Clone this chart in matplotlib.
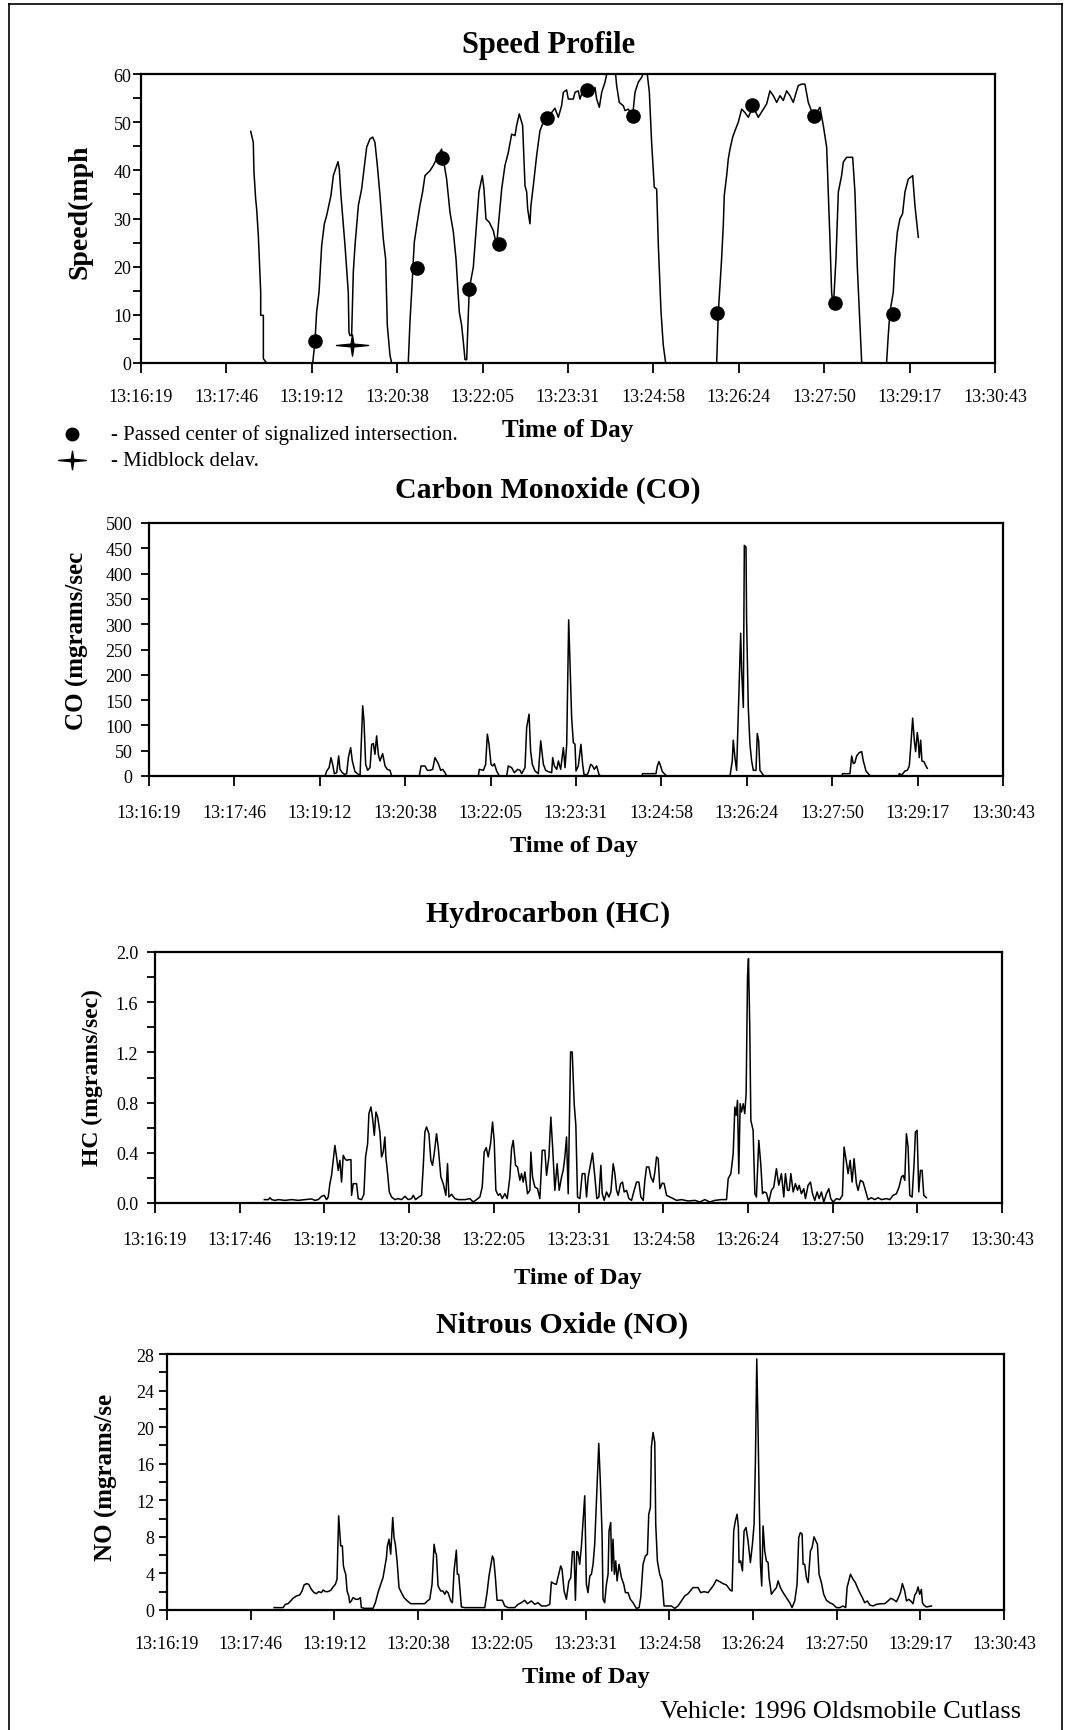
import matplotlib
matplotlib.use('Agg')
import matplotlib.pyplot as plt
from matplotlib.path import Path
from matplotlib.lines import Line2D
import numpy as np

# ---------------- data (seconds after 13:16:19) ----------------
TICK_LABELS = ['13:16:19', '13:17:46', '13:19:12', '13:20:38', '13:22:05', '13:23:31',
               '13:24:58', '13:26:24', '13:27:50', '13:29:17', '13:30:43']
SPAN_S = 864.0

speed_t = [111, 113.6, 114.3, 116, 117, 118.7, 121.1, 121.1, 123.8, 123.8, 127.1,
           173.7, 176, 177.7, 180.1, 182.8, 185.5, 187.8, 192.2, 194.6, 196.9, 199.3, 200.6, 202.3,
           206.4, 209.7, 210.4, 211.4, 213.1, 214.8, 216.5, 219.9, 223.2, 228.3, 231.6, 234.4, 236.7,
           239.1, 241.8, 245.1, 247.5, 249.2, 251.9, 253.6,
           270.4, 272.1, 273.8, 276.5, 279.5, 282.2, 284.9, 287.3, 292.3, 295.7, 300.8, 304.1, 305.8,
           309.2, 312.6, 316, 318.7, 322, 324.4, 326.1, 327.8, 329.5, 332.1, 336.2, 339.6, 341.9,
           345.3, 347, 349, 352.4, 356.4, 359.8, 361.5, 364.9, 368.2, 371.6, 375, 378.4, 380, 382.7,
           386.1, 388.5, 390.2, 391.2, 393.5, 394.5, 396.9, 400.3, 403.6, 407, 411, 415.4, 418.8,
           422.2, 425.5, 427.3, 430.6, 432.3, 437.4, 439.1, 442.4, 444.1, 447.5, 452.6, 454.2, 457.6,
           459.3, 461, 463.7, 466.1, 469.4, 472.8, 479.5, 481.2, 483.9, 488, 489.7, 493, 497.4, 499.8,
           503.1, 506.5, 509.9, 512.2, 514.3, 516.6, 519.3, 521.7, 523.4, 526.1, 528.4, 530.8,
           582.4, 584.1, 585.8, 587.4, 589.1, 590.1, 592.5, 594.2, 595.9, 598.6, 600.9, 604.3, 607.7,
           611, 614.4, 617.8, 621.2, 624.5, 629.6, 633, 636.3, 639.7, 643.1, 646.5, 649.8, 653.2,
           656.6, 659.9, 663.3, 665, 668.4, 671.7, 675.1, 680.2, 683.5, 686.9, 690.3, 693.7, 695.3,
           697, 698.7, 700.4, 703.1, 705.5, 708.8, 710.5, 713.9, 720, 722.3, 724.7, 727.4, 729.1,
           730.8, 754.3, 756, 757.7, 761.1, 762.8, 765.2, 767.8, 770.5, 772.9, 776.3, 780.7, 783,
           786.4]
speed_v = [48.1, 45.8, 39.6, 34.1, 32, 26.5, 14.7, 9.9, 9.9, 0.9, 0,
           0, 4.4, 10.6, 14.7, 24.4, 28.9, 30.6, 34.8, 38.9, 40.3, 41.8, 40.3, 34.8,
           24.4, 14.7, 6.4, 5.7, 5.7, 18.9, 24.4, 32.7, 36.1, 44.8, 46.5, 46.9, 45.8,
           41, 34.8, 25.8, 21.6, 7.8, 1.6, 0,
           0, 8.5, 14.7, 25.1, 29.2, 32.7, 35.5, 38.9, 39.9, 41, 43.1, 44.4, 42.4,
           38.2, 31.3, 27.2, 21.6, 10.6, 7.8, 4.4, 0.7, 0.7, 15.4, 19.9, 29.2, 35.5,
           38.9, 36.1, 29.9, 29.2, 27.5, 24.4, 28.5, 36.1, 41, 43.7, 47.5, 47.2, 49.3, 51.7,
           49.3, 36.8, 35.5, 32, 28.9, 32.7, 36.8, 43.1, 48.2, 50, 50.8, 52, 52.9,
           51, 53.4, 56.2, 56.7, 54.8, 54.8, 56.2, 56.5, 54.8, 56.9, 55.5, 56.2, 56.2,
           57.2, 54.8, 53.1, 56.2, 58.3, 61.5, 61.5, 57.6, 54.1, 53.4, 52.4, 52.7, 51.3, 56.2,
           58.3, 59.3, 61, 60, 56.2, 45.8, 36.5, 36.1, 24.4, 10.6, 3.7, 0,
           0, 10.6, 16.1, 21.6, 28.5, 34.8, 38.9, 42.4, 44.4, 46.9, 48.2, 50, 52.7,
           52, 51, 52.7, 52.4, 51, 52.7, 53.8, 56.5, 55.5, 54.1, 55.5, 54.5, 56.5,
           55.5, 54.1, 56.5, 57.6, 57.9, 57.9, 54.1, 51.3, 52, 53.1, 49.3, 44.8, 35.5,
           25.8, 14.7, 11.3, 21.6, 35.5, 38.9, 41.7, 42.7, 42.7, 35.5, 19.9, 7.8, 0.2,
           0, 0, 5.7, 10.6, 14.7, 21.6, 27.2, 29.9, 31, 35.5, 38.2, 38.9, 32.7,
           26.1]

signal_t = [176.0, 279.5, 304.1, 332.1, 362.5, 411.0, 451.5, 497.4, 582.4, 618.5, 680.9, 702.1, 760.4]
signal_v = [4.5, 19.8, 42.6, 15.3, 24.7, 50.9, 56.7, 51.3, 10.4, 53.6, 51.3, 12.4, 10.2]
midblock_t = [213.1]
midblock_v = [3.8]

co_t = [178.1, 179.8, 182.2, 184.1, 185.8, 187.5, 189.9, 191.9, 193.2, 195.6, 197.6, 200, 201.7,
        204, 205.7, 208.4, 211.8, 213.5, 216.2, 217.5, 219.2, 221.2, 223.6, 225.3, 227, 228.6,
        230.3, 232, 233.7, 236.4, 238.8, 241.1, 243.8, 245.5,
        273.5, 275.2, 279.2, 281.6, 284.3, 287, 289.3, 292.7, 295.1, 297.1, 299.5, 301.2,
        333.2, 334.2, 338.3, 340.6, 342.3, 344, 346, 347.7, 349.4, 351.7, 354.4,
        361.8, 363.5, 366.9, 369.6, 373, 375.4, 377, 380.4, 382.1, 384.5, 386.1, 387.8, 390.5,
        393.9, 396.3, 399, 401.3, 404, 407.4, 408.4, 410.1, 412.5, 414.2, 416.5, 419.2, 420.9,
        422.6, 424.6, 427.6, 429.3, 431, 432, 434.3, 437, 438.7, 440.1, 442.8, 444.4, 446.8,
        448.8, 450.5, 452.9, 455.2, 456.9,
        498.4, 499.4, 512.9, 514.3, 515.9, 517.6, 519.3, 522, 523.7,
        587.8, 590.1, 591.1, 592.8, 594.5, 596.2, 598.6, 599.6, 601.3, 602.3, 604, 604.6, 606.3,
        608, 609.7, 611.4, 614.1, 615.4, 616.8, 618.1, 619.8, 622.2,
        700.8, 701.8, 709.2, 710.9, 712.6, 714.2, 715.9, 718.6, 721, 722.7, 725.4, 727.7, 730.1,
        758.1, 759.1, 761.5, 764.8, 767.2, 769.2, 770.6, 772.6, 774.3, 775.6, 777.3, 778.3, 779.3,
        780.7, 782, 784, 786.1, 787.4]
co_v = [0, 9.9, 16.5, 36.3, 23.1, 4.6, 6.6, 39.6, 13.2, 6.6, 3.3, 4.6, 36.3,
        56.1, 29.7, 8.6, 3.3, 0, 138.7, 109, 23.1, 11.2, 16.5, 62.7, 64.1, 42.9,
        79.3, 42.9, 29.7, 44.2, 19.8, 13.2, 11.2, 0,
        0, 19.8, 19.8, 11.2, 11.2, 13.2, 36.3, 24.4, 11.2, 13.2, 6.6, 0,
        0, 13.2, 11.2, 23.1, 82.6, 62.7, 23.1, 19.8, 24.4, 9.9, 0,
        0, 19.8, 16.5, 6.6, 13.2, 11.2, 4.6, 16.5, 95.8, 122.2, 49.5, 23.1, 9.9,
        4.6, 69.4, 23.1, 11.2, 8.6, 6.6, 36.3, 19.8, 13.2, 29.7, 13.2, 56.1, 16.5,
        62.7, 308.5, 115.6, 66, 62.7, 9.9, 19.8, 62.7, 23.1, 3.3, 2, 6.6, 23.1,
        19.8, 13.2, 19.8, 3.3, 0,
        0, 4.6, 4.6, 19.8, 28.4, 19.8, 8.6, 3.3, 0,
        0, 29.7, 70.7, 36.3, 11.2, 122.2, 282, 208.1, 135.4, 455.7, 452.4, 307.1, 135.4,
        62.7, 29.7, 11.2, 11.2, 83.9, 69.4, 11.2, 6.6, 0,
        0, 4.6, 4.6, 39.6, 24.4, 26.4, 39.6, 46.2, 48.2, 29.7, 9.9, 4.6, 0,
        0, 4.6, 2, 9.9, 11.2, 19.8, 56.1, 114.3, 69.4, 48.2, 85.9, 69.4, 36.3,
        70.7, 29.7, 28.4, 19.8, 15.2]

hc_t = [111.5, 115.6, 117.3, 119, 122.4, 125.8, 132.6, 139.4, 146.2, 153, 159.8, 163.1, 166.5,
        169.9, 172.7, 175, 176.7, 178.4, 180.1, 181.8, 183.5, 185.2, 186.9, 188.6, 190.3, 192,
        193.7, 195.4, 197.8, 199.9, 200.5, 202.2, 205.6, 207.3, 210.7, 213.1, 214.8, 216.9, 218.2,
        220.3, 222, 223.7, 225.4, 227.1, 229.4, 231.1, 232.8, 234.5, 235.5, 237.3, 239, 241.3,
        244.7, 248.1, 251.5, 254.9, 258.3, 261.7, 263.4, 265.8, 269.2, 271.9, 273.6, 275.3, 277,
        279.4, 281.4, 283.1, 284.8, 287.2, 288.9, 291.6, 294, 296.7, 298.4, 299.8, 302.5, 305.9,
        309.3, 316.1, 321.2, 324.6, 328, 331.4, 333.8, 335.8, 337.9, 339.9, 342.3, 344.3, 346,
        347.7, 350.1, 352.1, 354.2, 356.9, 359.3, 362, 363.7, 365.4, 367.8, 369.8, 372.2, 373.9,
        375.6, 377.3, 380, 382.4, 383.4, 385.1, 387.5, 390.2, 392.6, 395, 397.7, 399.4, 401.8,
        403.8, 405.5, 407.9, 410.2, 412.3, 414.7, 416.4, 418.1, 419.8, 421.5, 423.9, 425.6, 427.6,
        429.3, 431, 433.4, 435.8, 438.5, 440.2, 441.9, 444.3, 446.3, 448.7, 450.7, 452.8, 454.8,
        456.2, 458.2, 460.6, 463, 465, 467.4, 469.1, 470.8, 472.5, 474.9, 476.9, 478.6, 481,
        483.4, 486.1, 488.8, 491.2, 493.6, 495.6, 498, 499.7, 501.4, 503.8, 505.8, 508.2, 509.9,
        511.6, 513.3, 515, 517.4, 519.4, 521.8, 525.2, 528.6, 532, 537.1, 543.9, 550.7, 555.8,
        560.9, 566, 571.1, 577.9, 583, 584.7, 587.4, 589.8, 591.5, 592.8, 594.2, 595.5, 596.9,
        598.3, 600, 601.6, 603, 604.4, 605.4, 606.7, 607.8, 610.1, 611.9, 613.5, 615.9, 617.9,
        619.7, 621.4, 623.7, 626.1, 628.8, 631.2, 633.9, 636.3, 639, 641.4, 643.1, 645.2, 646.9,
        648.6, 651, 653.3, 655.4, 657.1, 659.4, 661.8, 663.5, 666.2, 668.6, 670.7, 673, 675.4,
        677.5, 679.8, 682.2, 684.9, 687.3, 689.3, 691.7, 695.1, 698.5, 701.2, 702.9, 705.3, 707,
        709.1, 711.1, 713.1, 715.5, 717.2, 719.6, 722.3, 724.7, 727.4, 730.8, 734.2, 737.6, 741,
        746.1, 749.5, 752.9, 756.3, 759, 761.4, 763.1, 764.8, 766.5, 768.2, 769.9, 772.3, 774.3,
        775.7, 777.4, 779.1, 780.8, 782.5, 784.2, 786.9]
hc_v = [0.027, 0.027, 0.042, 0.027, 0.021, 0.027, 0.021, 0.027, 0.021, 0.027, 0.032, 0.021, 0.027,
        0.053, 0.061, 0.027, 0.048, 0.154, 0.22, 0.34, 0.459, 0.367, 0.26, 0.34, 0.167, 0.38,
        0.353, 0.34, 0.345, 0.345, 0.061, 0.154, 0.154, 0.035, 0.027, 0.069, 0.367, 0.473, 0.712,
        0.765, 0.672, 0.539, 0.725, 0.685, 0.566, 0.367, 0.406, 0.526, 0.367, 0.234, 0.088, 0.048,
        0.027, 0.035, 0.027, 0.053, 0.027, 0.035, 0.061, 0.027, 0.048, 0.061, 0.287, 0.566, 0.606,
        0.552, 0.34, 0.3, 0.393, 0.552, 0.446, 0.207, 0.154, 0.061, 0.313, 0.048, 0.069, 0.035,
        0.027, 0.027, 0.035, 0.008, 0.027, 0.048, 0.127, 0.406, 0.441, 0.367, 0.473, 0.645, 0.499,
        0.101, 0.061, 0.074, 0.035, 0.074, 0.035, 0.207, 0.433, 0.499, 0.3, 0.287, 0.181, 0.234,
        0.167, 0.247, 0.074, 0.101, 0.406, 0.207, 0.127, 0.114, 0.035, 0.42, 0.42, 0.22, 0.367,
        0.685, 0.459, 0.101, 0.313, 0.101, 0.207, 0.26, 0.367, 0.526, 0.074, 1.203, 1.203, 0.791,
        0.619, 0.048, 0.035, 0.234, 0.234, 0.048, 0.207, 0.313, 0.398, 0.207, 0.035, 0.048, 0.3,
        0.074, 0.021, 0.088, 0.048, 0.088, 0.313, 0.234, 0.101, 0.061, 0.154, 0.167, 0.088, 0.101,
        0.035, 0.021, 0.101, 0.167, 0.167, 0.048, 0.021, 0.181, 0.287, 0.287, 0.207, 0.167, 0.247,
        0.367, 0.353, 0.114, 0.159, 0.154, 0.061, 0.048, 0.035, 0.021, 0.027, 0.016, 0.021, 0.008,
        0.027, 0.008, 0.021, 0.027, 0.027, 0.194, 0.234, 0.393, 0.765, 0.699, 0.818, 0.234, 0.791,
        0.725, 0.791, 0.712, 0.871, 1.801, 1.947, 1.402, 0.659, 0.579, 0.074, 0.048, 0.499, 0.313,
        0.074, 0.088, 0.08, 0.008, 0.101, 0.127, 0.274, 0.141, 0.234, 0.048, 0.234, 0.101, 0.101,
        0.234, 0.088, 0.154, 0.101, 0.141, 0.074, 0.114, 0.035, 0.141, 0.167, 0.074, 0.021, 0.088,
        0.035, 0.088, 0.008, 0.074, 0.114, 0.035, 0.008, 0.035, 0.027, 0.061, 0.446, 0.327, 0.234,
        0.34, 0.167, 0.353, 0.154, 0.101, 0.181, 0.167, 0.101, 0.027, 0.042, 0.027, 0.042, 0.027,
        0.035, 0.027, 0.061, 0.074, 0.127, 0.207, 0.22, 0.181, 0.552, 0.446, 0.061, 0.048, 0.313,
        0.566, 0.579, 0.088, 0.26, 0.26, 0.061, 0.042]

no_t = [110.5, 119.8, 122.2, 124.9, 127.7, 130.1, 133.5, 137, 139.4, 141.5, 143.9, 146.3, 149,
        151.8, 154.2, 156.6, 159.4, 161.1, 163.5, 166.2, 169, 171.4, 173.8, 175.5, 177.2, 178.3,
        179.3, 181, 182.1, 183.4, 184.5, 185.9, 187.6, 188.6, 190.3, 192, 194.8, 197.2, 199.6,
        200.6, 204.1, 212.7, 215.1, 217.8, 220.6, 223, 224.7, 226.5, 227.5, 229.2, 230.9, 233,
        234.4, 235.7, 237.5, 239.5, 241.9, 244.7, 248.1, 251.6, 255, 261.9, 266, 268.8, 271.2,
        273.6, 275.7, 277.1, 278.1, 279.8, 282.5, 284.9, 286.7, 288.4, 290.1, 292.9, 294.6, 296.3,
        298.7, 299.7, 301.1, 303.9, 307.3, 328, 330.4, 332.4, 335.9, 337.3, 339, 340.7, 343.4,
        346.2, 348.6, 352, 358.9, 362.4, 365.8, 369.2, 372, 376.1, 379.6, 383, 386.5, 391.6,
        395.1, 396.8, 399.5, 401.9, 403.7, 406.4, 407.8, 409.9, 412.3, 414.7, 416.8, 418.5, 420.2,
        421.6, 423, 424.3, 426, 427.8, 431.2, 432.9, 434.6, 436.4, 438.1, 439.8, 441.5, 443.9,
        445.7, 447.4, 449.1, 450.1, 451.8, 453.6, 455.3, 456.3, 458, 459.1, 460.4, 461.8, 463.2,
        464.6, 466.6, 469.1, 471.5, 473.2, 475.9, 478.3, 481.1, 484.5, 487.3, 489, 491.4, 493.8,
        495.9, 497.3, 499, 500, 501.7, 503.5, 504.5, 506.2, 508.6, 511, 513.1, 516.5, 520.7,
        524.1, 527.5, 531, 534.4, 537.9, 540.6, 543, 548.2, 550.9, 554.4, 558.5, 563.7, 567.1,
        570.6, 574, 577.4, 581.6, 583.3, 585, 586.7, 588.5, 589.8, 590.5, 592.2, 594, 595.7,
        597.7, 599.8, 602.2, 604.3, 606, 607.4, 608.8, 609.8, 611.2, 612.6, 613.9, 615.3, 617,
        618.7, 620.5, 621.5, 623.9, 626.3, 629.1, 630.8, 633.2, 636, 639.4, 642.8, 645.2, 648,
        650.4, 652.1, 653.8, 655.6, 656.6, 658.3, 660, 661.8, 664.2, 665.9, 667.9, 669.7, 671.4,
        673.1, 675.5, 677.9, 680.7, 684.1, 687.6, 691, 694.4, 697.9, 700.6, 702, 705.5, 708.2,
        710.6, 712.7, 715.1, 717.8, 720.2, 723, 725.4, 728.9, 732.3, 737.5, 740.9, 744.3, 747.1,
        749.5, 752.9, 754.7, 757.1, 759.1, 761.5, 763.3, 765.7, 767.7, 770.1, 771.9, 773.6, 775.3,
        777, 778.7, 779.8, 781.2, 783.9, 789.1]
no_v = [0.26, 0.26, 0.62, 0.69, 0.99, 1.28, 1.53, 1.64, 2.08, 2.74, 2.88, 2.81, 2.26,
        1.9, 1.79, 2.01, 1.9, 2.19, 2.01, 2.01, 2.15, 2.52, 2.81, 3.36, 10.3, 8.65,
        7.01, 7.01, 4.82, 4.27, 3.91, 2.08, 1.53, 0.8, 0.99, 1.35, 1.17, 1.17, 1.35,
        0.26, 0.18, 0.18, 0.8, 1.9, 2.81, 3.54, 4.64, 5.73, 7.01, 7.74, 6.1, 10.11,
        7.92, 7.19, 5.37, 2.45, 1.9, 1.35, 0.99, 0.69, 0.69, 0.69, 0.69, 0.99, 1.17,
        2.81, 7.19, 6.28, 6.1, 2.63, 2.08, 2.08, 1.72, 2.08, 1.9, 0.99, 0.8, 4.27,
        6.54, 3.91, 3.91, 0.33, 0.26, 0.26, 1.9, 3.72, 5.91, 5.55, 3.54, 1.06, 1.06,
        1.06, 0.44, 0.26, 0.26, 0.62, 0.8, 1.06, 0.69, 0.99, 0.62, 0.8, 0.44, 0.44,
        0.62, 3.07, 2.88, 2.81, 3.61, 4.82, 4.45, 2.08, 1.17, 3.1, 3.54, 6.39, 6.39,
        1.06, 6.39, 6.28, 5.0, 7.01, 12.49, 2.81, 1.9, 3.72, 3.91, 5.0, 7.19, 13.4,
        18.22, 13.76, 8.29, 1.17, 0.8, 2.81, 3.91, 8.65, 9.57, 4.27, 7.74, 3.91, 5.37,
        3.18, 5.0, 3.54, 2.81, 1.9, 1.9, 1.17, 0.8, 0.18, 0.26, 1.35, 5.0, 5.91,
        6.1, 10.48, 11.21, 17.78, 19.42, 18.33, 9.38, 5.37, 3.91, 3.18, 0.44, 0.44, 0.44,
        0.18, 0.44, 0.99, 1.53, 1.79, 2.15, 2.45, 2.45, 1.9, 2.01, 1.9, 2.63, 3.29,
        3.1, 2.88, 2.74, 2.15, 2.08, 8.65, 9.75, 10.48, 9.02, 5.18, 5.37, 4.27, 8.65,
        9.02, 7.56, 5.18, 7.19, 9.38, 16.32, 27.46, 21.8, 12.67, 5.0, 2.63, 9.2, 6.46,
        5.37, 5.18, 3.54, 1.72, 2.08, 2.45, 3.18, 2.45, 1.9, 1.35, 0.8, 0.26, 0.99,
        2.81, 7.92, 8.47, 8.29, 5.0, 5.0, 3.54, 2.99, 6.46, 6.83, 8.0, 7.56, 7.19,
        3.91, 2.99, 1.72, 1.06, 0.8, 0.62, 0.26, 0.26, 0.44, 0.26, 2.45, 3.91, 3.36,
        2.99, 2.45, 1.9, 1.35, 0.8, 0.99, 0.55, 0.44, 0.62, 0.69, 0.69, 0.99, 1.28,
        1.17, 0.91, 1.28, 1.9, 2.88, 2.08, 0.99, 1.17, 0.99, 0.69, 1.64, 1.9, 2.52,
        1.72, 2.26, 0.8, 0.55, 0.33, 0.44]

# ---------------- figure ----------------
plt.rcParams['font.family'] = ['Liberation Serif', 'DejaVu Serif']
W, H = 1067, 1731
fig = plt.figure(figsize=(W / 100, H / 100), dpi=100)


def ax_at(x0, y0, x1, y1):
    return fig.add_axes([x0 / W, 1 - y1 / H, (x1 - x0) / W, (y1 - y0) / H])


def ftext(x, y, s, **kw):
    return fig.text(x / W, 1 - y / H, s, **kw)


TICK_POS = np.linspace(0, SPAN_S, len(TICK_LABELS))


def style(ax, ymax, major, minor, fmt, xpad, ypad):
    ax.set_xlim(0, SPAN_S)
    ax.set_ylim(0, ymax)
    ax.set_xticks(TICK_POS)
    ax.set_xticklabels(TICK_LABELS)
    yt = np.arange(0, ymax + 1e-9, major)
    ax.set_yticks(yt)
    ax.set_yticklabels([fmt.format(v) for v in yt])
    if minor:
        ax.set_yticks(np.arange(0, ymax + 1e-9, minor), minor=True)
    ax.tick_params(axis='x', direction='out', length=7, width=1.3, labelsize=13, pad=xpad)
    ax.tick_params(axis='y', which='both', direction='out', length=6, width=1.3,
                   labelsize=13, pad=ypad)
    for s in ax.spines.values():
        s.set_linewidth(1.6)


# Speed
ax1 = ax_at(141, 75, 995, 364)
ax1.plot(speed_t, speed_v, color='black', lw=1.1)
ax1.plot(signal_t, signal_v, 'o', color='black', ms=9.5, ls='none')
star = Path([(0, 1), (0.13, 0.13), (1.5, 0), (0.13, -0.13), (0, -1), (-0.13, -0.13),
             (-1.5, 0), (-0.13, 0.13), (0, 1)],
            [Path.MOVETO] + [Path.LINETO] * 7 + [Path.CLOSEPOLY])
ax1.plot(midblock_t, midblock_v, marker=star, color='black', ms=23, ls='none')
style(ax1, 60, 10, 5, '{:.0f}', 11, 1)

# CO
ax2 = ax_at(149, 524, 1003, 777)
ax2.plot(co_t, co_v, color='black', lw=1.1)
style(ax2, 500, 50, None, '{:.0f}', 13, 6)

# HC
ax3 = ax_at(155, 953, 1002, 1204)
ax3.plot(hc_t, hc_v, color='black', lw=1.1)
style(ax3, 2.0, 0.4, 0.2, '{:.1f}', 13, 6)

# NO
ax4 = ax_at(167, 1355, 1004, 1611)
ax4.plot(no_t, no_v, color='black', lw=1.1)
style(ax4, 28, 4, 2, '{:.0f}', 11, 3)

# titles and labels
ftext(549, 45, 'Speed Profile', ha='center', va='center', fontsize=22, fontweight='bold')
ftext(568, 431, 'Time of Day', ha='center', va='center', fontsize=18, fontweight='bold')
ftext(80, 212, 'Speed(mph', ha='center', va='center', rotation=90, fontsize=20, fontweight='bold')

ftext(548, 490, 'Carbon Monoxide (CO)', ha='center', va='center', fontsize=21.5, fontweight='bold')
ftext(574, 847, 'Time of Day', ha='center', va='center', fontsize=17.5, fontweight='bold')
ftext(77, 641, 'CO (mgrams/sec', ha='center', va='center', rotation=90, fontsize=18, fontweight='bold')

ftext(548, 914, 'Hydrocarbon (HC)', ha='center', va='center', fontsize=21.5, fontweight='bold')
ftext(578, 1279, 'Time of Day', ha='center', va='center', fontsize=17.5, fontweight='bold')
ftext(92, 1078, 'HC (mgrams/sec)', ha='center', va='center', rotation=90, fontsize=17, fontweight='bold')

ftext(562, 1325, 'Nitrous Oxide (NO)', ha='center', va='center', fontsize=21.5, fontweight='bold')
ftext(586, 1678, 'Time of Day', ha='center', va='center', fontsize=17.5, fontweight='bold')
ftext(106, 1477, 'NO (mgrams/se', ha='center', va='center', rotation=90, fontsize=18, fontweight='bold')

ftext(1021, 1712, 'Vehicle: 1996 Oldsmobile Cutlass', ha='right', va='center', fontsize=19)

# legend of markers
fig.add_artist(Line2D([72 / W], [1 - 435 / H], marker='o', color='black', ms=9, ls='none'))
fig.add_artist(Line2D([72 / W], [1 - 461 / H], marker=star, color='black', ms=20, ls='none'))
ftext(111, 435, '- Passed center of signalized intersection.', ha='left', va='center', fontsize=15)
ftext(111, 461, '- Midblock delav.', ha='left', va='center', fontsize=15)

# page frame
fig.add_artist(Line2D([9 / W, 9 / W], [0, 1 - 5 / H], color='black', lw=1.2))
fig.add_artist(Line2D([9 / W, 1062 / W], [1 - 5 / H, 1 - 5 / H], color='black', lw=1.2))
fig.add_artist(Line2D([1062 / W, 1062 / W], [0, 1 - 5 / H], color='black', lw=1.2))

fig.savefig('out.png', dpi=100)
